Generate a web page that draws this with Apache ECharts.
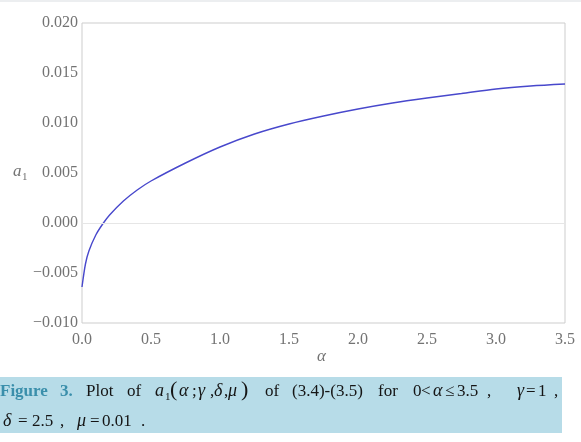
<!DOCTYPE html>
<html>
<head>
<meta charset="utf-8">
<script src="https://cdn.jsdelivr.net/npm/echarts@6/dist/echarts.min.js"></script>
<style>html,body{margin:0;padding:0;background:#fff;}#c{width:581px;height:442px;}</style>
</head>
<body>
<div id="c"></div>
<script>
// Data
var alphaValues = [0, 0.025, 0.05, 0.10, 0.15, 0.20, 0.30, 0.40, 0.50, 0.75, 1.00, 1.25, 1.50, 1.75, 2.00, 2.25, 2.50, 2.75, 3.00, 3.25, 3.50];
var a1Values    = [-0.0064, -0.0041, -0.0028, -0.0012, -0.0001, 0.0008, 0.0022, 0.0033, 0.0042, 0.0060, 0.0076, 0.0089, 0.0099, 0.0107, 0.0114, 0.0120, 0.0125, 0.01295, 0.0134, 0.0137, 0.0139];
var xTicks = [0, 0.5, 1.0, 1.5, 2.0, 2.5, 3.0, 3.5];
var yTicks = [-0.010, -0.005, 0.000, 0.005, 0.010, 0.015, 0.020];

var seriesData = alphaValues.map(function (a, i) { return [a, a1Values[i]]; });
var serif = '"Liberation Serif", "DejaVu Serif", serif';
var tickColor = '#737373';
var capColor = '#151515';
var teal = '#3a8fab';

// caption tokens: [text, left, kind]
var captionLine1 = [
  ['Figure', 0, 'b'], ['3.', 60, 'b'], ['Plot', 86, 'n'], ['of', 127, 'n'],
  ['a', 155, 'i'], ['1', 165, 's'], ['(', 170, 'p'], ['\u03b1', 179, 'i'], [';', 192, 'n'],
  ['\u03b3', 198, 'i'], [',', 210, 'n'], ['\u03b4', 214, 'i'], [',', 224, 'n'],
  ['\u03bc', 228, 'i'], [')', 241, 'p'], ['of', 265, 'n'], ['(3.4)-(3.5)', 292, 'n'],
  ['for', 378, 'n'], ['0', 413, 'n'], ['<', 421, 'n'], ['\u03b1', 433, 'i'], ['\u2264', 445, 'n'],
  ['3.5', 457, 'n'], [',', 487, 'n'], ['\u03b3', 517, 'i'], ['=', 526, 'n'], ['1', 538, 'n'], [',', 554, 'n']
];
var captionLine2 = [
  ['\u03b4', 3, 'i'], ['=', 18, 'n'], ['2.5', 32, 'n'], [',', 60, 'n'],
  ['\u03bc', 77, 'i'], ['=', 90, 'n'], ['0.01', 102, 'n'], ['.', 141, 'n']
];

function captionTokens(tokens, baseline) {
  return tokens.map(function (t) {
    var kind = t[2];
    var size = kind === 's' ? 11 : (kind === 'p' ? 22 : (kind === 'i' ? 18 : 17));
    var base = kind === 's' ? baseline + 3 : baseline;
    return {
      type: 'text', left: t[1], top: base - 0.8 * size,
      style: {
        text: t[0], fontFamily: serif, fontSize: size,
        fontStyle: kind === 'i' ? 'italic' : 'normal',
        fontWeight: kind === 'b' ? 'bold' : 'normal',
        fill: kind === 'b' ? teal : capColor
      }
    };
  });
}

var chart = echarts.init(document.getElementById('c'), null, {renderer: 'canvas'});
chart.setOption({
  animation: false,
  backgroundColor: '#fff',
  grid: {left: 82, right: 16, top: 23, bottom: 119, show: true, borderColor: '#cdcdcd', borderWidth: 1},
  xAxis: {
    type: 'value', min: xTicks[0], max: xTicks[xTicks.length - 1], interval: 0.5,
    axisLine: {show: false}, axisTick: {show: false}, splitLine: {show: false},
    axisLabel: {color: tickColor, fontFamily: serif, fontSize: 16, margin: 9,
      formatter: function (v) { return v.toFixed(1); }}
  },
  yAxis: {
    type: 'value', min: yTicks[0], max: yTicks[yTicks.length - 1], interval: 0.005,
    axisLine: {show: false}, axisTick: {show: false},
    splitLine: {show: false},
    axisLabel: {color: tickColor, fontFamily: serif, fontSize: 16, margin: 4,
      formatter: function (v) { var s = Math.abs(v).toFixed(3); return (v < -1e-9 ? '\u2212' : '') + s; }}
  },
  series: [{
    type: 'line', data: seriesData, smooth: 0.3, showSymbol: false,
    lineStyle: {color: '#4848cc', width: 1.4},
    markLine: {silent: true, symbol: 'none', label: {show: false},
      lineStyle: {color: '#e6e6e6', width: 1, type: 'solid'}, data: [{yAxis: 0}]},
    z: 3
  }],
  graphic: [
    {type: 'rect', left: 0, top: 0, shape: {width: 581, height: 2}, style: {fill: '#eceef0'}},
    {type: 'text', left: 13, top: 177 - 13.6, style: {text: 'a', fontFamily: serif, fontStyle: 'italic', fontSize: 17, fill: tickColor}},
    {type: 'text', left: 22, top: 180 - 8.8, style: {text: '1', fontFamily: serif, fontSize: 11, fill: tickColor}},
    {type: 'text', left: 317, top: 348, style: {text: '\u03b1', fontFamily: serif, fontStyle: 'italic', fontSize: 17, fill: tickColor}},
    {type: 'rect', left: 0, top: 377, shape: {width: 562, height: 56}, style: {fill: '#b7dce8'}}
  ].concat(captionTokens(captionLine1, 397)).concat(captionTokens(captionLine2, 427))
});
</script>
</body>
</html>
